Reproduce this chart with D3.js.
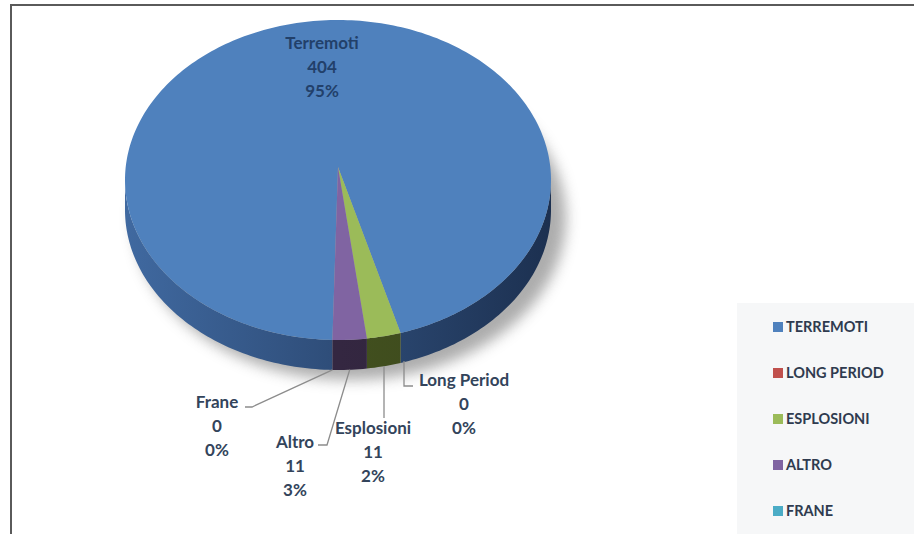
<!DOCTYPE html>
<html>
<head>
<meta charset="utf-8">
<script src="https://cdn.jsdelivr.net/npm/d3@7"></script>
<style>
  body { margin: 0; background: #fff; }
  svg { display: block; font-family: Lato, "Open Sans", sans-serif; }
</style>
</head>
<body>
<div id="chart"></div>
<script>
// data
const categories = ["Terremoti", "Long Period", "Esplosioni", "Altro", "Frane"];
const legendLabels = ["TERREMOTI", "LONG PERIOD", "ESPLOSIONI", "ALTRO", "FRANE"];
const values = [404, 0, 11, 11, 0];
const percentLabels = ["95%", "0%", "2%", "3%", "0%"];

const colors = ["#4F81BD", "#C0504D", "#9BBB59", "#8064A2", "#4BACC6"];
const sideLight = ["#4069A0", "#8E3A38", "#4A5A24", "#3A2C4A", "#2F6F80"];
const sideDark = ["#1C3050", "#5E2422", "#3A461A", "#2E2238", "#1F4A55"];

const width = 914, height = 534;
const cx = 338, cy = 180, rx = 213, ry = 160, depth = 30;
const apexY = 167;

const svg = d3.select("#chart").append("svg")
    .attr("width", width)
    .attr("height", height);

const defs = svg.append("defs");
defs.append("filter").attr("id", "shadow")
    .attr("x", "-20%").attr("y", "-20%").attr("width", "140%").attr("height", "140%")
  .append("feGaussianBlur").attr("stdDeviation", 7);

// frame
svg.append("path")
    .attr("d", `M${width},5 H11 V${height}`)
    .attr("fill", "none")
    .attr("stroke", "#5a5a5a")
    .attr("stroke-width", 2);

// legend background
svg.append("rect")
    .attr("x", 737).attr("y", 303)
    .attr("width", width - 737).attr("height", height - 303)
    .attr("fill", "#F6F7F8");

const pie = d3.pie().sort(null).value(d => d)
    .startAngle(181.5 * Math.PI / 180)
    .endAngle(181.5 * Math.PI / 180 + 2 * Math.PI);
const arcs = pie(values);

const pt = (a, dy = 0) => [cx + rx * Math.sin(a), cy - ry * Math.cos(a) + dy];

function rimPath(a0, a1, dy) {
    const steps = Math.max(2, Math.ceil(Math.abs(a1 - a0) / 0.02));
    return d3.range(steps + 1).map(i => pt(a0 + (a1 - a0) * i / steps, dy));
}

// shadow
const shadowG = svg.append("g").attr("filter", "url(#shadow)").attr("opacity", 0.7);
shadowG.append("ellipse")
    .attr("cx", cx + 12).attr("cy", cy + depth + 8)
    .attr("rx", rx + 3).attr("ry", ry + 2)
    .attr("fill", "#8a8a8a");

const pieG = svg.append("g");

// side walls (front half only)
arcs.forEach((d, i) => {
    if (d.endAngle - d.startAngle <= 0) return;
    const segs = [];
    const a0 = Math.max(d.startAngle, Math.PI / 2), a1 = Math.min(d.endAngle, 3 * Math.PI / 2);
    if (a1 > a0) segs.push([a0, a1]);
    const b0 = Math.max(d.startAngle, 2.5 * Math.PI), b1 = Math.min(d.endAngle, 3.5 * Math.PI);
    if (b1 > b0) segs.push([b0, b1]);
    segs.forEach(([s, e], k) => {
        const top = rimPath(s, e, 0);
        const bot = rimPath(e, s, depth);
        const gid = "side" + i + "_" + k;
        const g = defs.append("linearGradient").attr("id", gid)
            .attr("gradientUnits", "userSpaceOnUse")
            .attr("x1", cx - rx).attr("x2", cx + rx).attr("y1", 0).attr("y2", 0);
        g.append("stop").attr("offset", "0%").attr("stop-color", sideLight[i]);
        g.append("stop").attr("offset", "100%").attr("stop-color", sideDark[i]);
        pieG.append("path")
            .attr("d", d3.line()(top.concat(bot)) + "Z")
            .attr("fill", `url(#${gid})`);
    });
});

// top faces
arcs.forEach((d, i) => {
    if (d.endAngle - d.startAngle <= 0) return;
    const rim = rimPath(d.startAngle, d.endAngle, 0);
    pieG.append("path")
        .attr("d", d3.line()([[cx, apexY]].concat(rim)) + "Z")
        .attr("fill", colors[i]);
});

// labels
const labelFont = 17, lineH = 24;
function labelBlock(x, y, lines, color) {
    const t = svg.append("text")
        .attr("text-anchor", "middle")
        .attr("font-size", labelFont)
        .attr("font-weight", "bold")
        .attr("fill", color);
    lines.forEach((s, k) => {
        t.append("tspan").attr("x", x).attr("y", y + k * lineH).attr("dy", "0.35em").text(s);
    });
}

// Terremoti inside
labelBlock(322, 43, [categories[0], values[0], percentLabels[0]], "#22406A");

// outside labels with leader lines
const outside = {
    "Long Period": { pts: [[404, 386], [413, 386]], text: [464, 380] },
    "Esplosioni": { pts: [[384, 418]], text: [373, 428] },
    "Altro": { pts: [[327, 445], [318, 445]], text: [295, 442] },
    "Frane": { pts: [[252, 407], [245, 407]], text: [217, 402] }
};
arcs.forEach((d, i) => {
    const lay = outside[categories[i]];
    if (!lay) return;
    const mid = (d.startAngle + d.endAngle) / 2;
    let start = pt(mid, depth);
    if (categories[i] === "Long Period") start = [lay.pts[0][0], start[1] - 2];
    if (categories[i] === "Esplosioni") start = [lay.pts[0][0], start[1]];
    svg.append("path")
        .attr("d", d3.line()([start].concat(lay.pts)))
        .attr("fill", "none")
        .attr("stroke", "#8C8C8C")
        .attr("stroke-width", 1.3);
    labelBlock(lay.text[0], lay.text[1], [categories[i], values[i], percentLabels[i]], "#33445B");
});

// legend
const legendY = d3.scalePoint().domain(legendLabels).range([327, 511]);
const legend = svg.append("g");
legendLabels.forEach((l, i) => {
    legend.append("rect")
        .attr("x", 773).attr("y", legendY(l) - 5)
        .attr("width", 10).attr("height", 10)
        .attr("fill", colors[i]);
    legend.append("text")
        .attr("x", 786).attr("y", legendY(l))
        .attr("dy", "0.36em")
        .attr("font-size", 14.5)
        .attr("font-weight", "bold")
        .attr("fill", "#2F3B4F")
        .text(l);
});
</script>
</body>
</html>
